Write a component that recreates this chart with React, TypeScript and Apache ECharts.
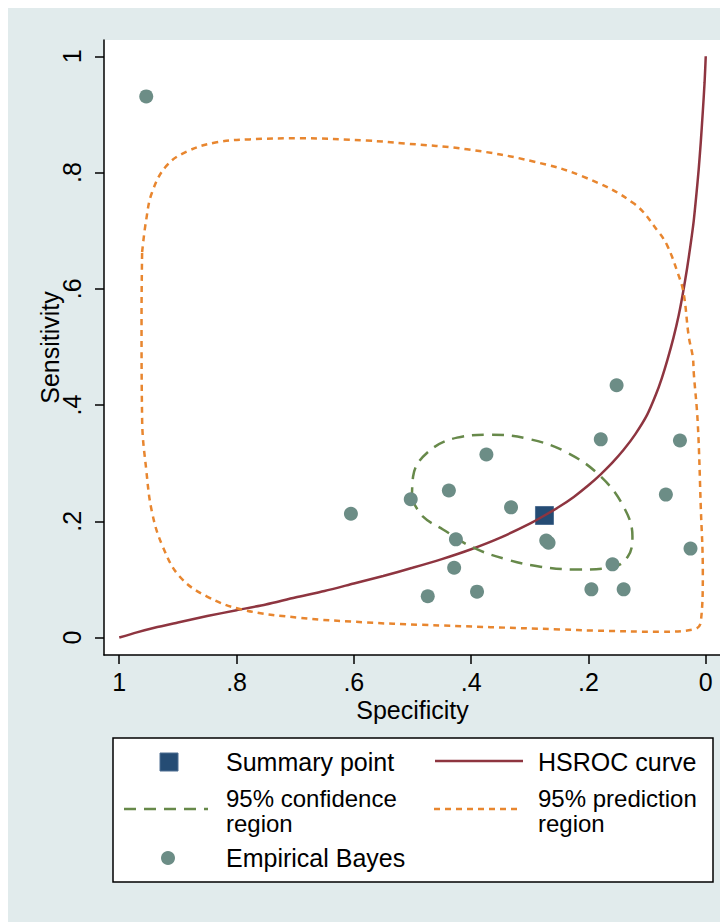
import React, { useEffect, useRef } from "react";
import * as echarts from "echarts";

// Empirical Bayes study estimates (specificity, sensitivity)
const ebSpecificity = [0.954, 0.605, 0.503, 0.438, 0.374, 0.426, 0.429, 0.474, 0.390, 0.332, 0.272, 0.268, 0.195, 0.159, 0.140, 0.179, 0.152, 0.068, 0.044, 0.026];
const ebSensitivity = [0.931, 0.213, 0.238, 0.253, 0.315, 0.169, 0.120, 0.071, 0.079, 0.224, 0.167, 0.163, 0.083, 0.126, 0.083, 0.341, 0.434, 0.246, 0.339, 0.153];

// Summary point
const summarySpecificity = [0.275];
const summarySensitivity = [0.210];

// HSROC curve
const hsrocSpecificity = [1.0, 0.97, 0.94, 0.90, 0.85, 0.80, 0.75, 0.70, 0.65, 0.60, 0.55, 0.50, 0.45, 0.40, 0.35, 0.30, 0.275, 0.25, 0.225, 0.20, 0.18, 0.16, 0.14, 0.12, 0.10, 0.085, 0.075, 0.065, 0.055, 0.046, 0.039, 0.032, 0.026, 0.0205, 0.016, 0.012, 0.0085, 0.005, 0.002, 0.0];
const hsrocSensitivity = [0.0, 0.009, 0.017, 0.026, 0.037, 0.047, 0.057, 0.069, 0.080, 0.093, 0.106, 0.120, 0.135, 0.152, 0.172, 0.196, 0.210, 0.225, 0.242, 0.262, 0.280, 0.300, 0.323, 0.350, 0.383, 0.418, 0.446, 0.479, 0.516, 0.555, 0.592, 0.634, 0.675, 0.717, 0.762, 0.806, 0.852, 0.905, 0.955, 1.0];

// 95% confidence region
const confSpecificity = [0.501, 0.499, 0.475, 0.424, 0.368, 0.299, 0.236, 0.179, 0.140, 0.125, 0.133, 0.162, 0.219, 0.282, 0.338, 0.397, 0.448, 0.482, 0.501];
const confSensitivity = [0.238, 0.277, 0.318, 0.344, 0.349, 0.341, 0.318, 0.277, 0.225, 0.174, 0.139, 0.120, 0.117, 0.122, 0.134, 0.155, 0.186, 0.208, 0.238];

// 95% prediction region
const predSpecificity = [0.961, 0.954, 0.944, 0.920, 0.885, 0.834, 0.778, 0.692, 0.578, 0.513, 0.407, 0.294, 0.209, 0.123, 0.080, 0.065, 0.048, 0.038, 0.029, 0.022, 0.0205, 0.0137, 0.0085, 0.005, 0.0085, 0.0205, 0.077, 0.191, 0.248, 0.487, 0.578, 0.692, 0.790, 0.851, 0.897, 0.926, 0.944, 0.954, 0.961, 0.962, 0.961];
const predSensitivity = [0.663, 0.719, 0.766, 0.811, 0.836, 0.852, 0.857, 0.859, 0.855, 0.850, 0.840, 0.819, 0.793, 0.747, 0.697, 0.673, 0.628, 0.594, 0.518, 0.482, 0.456, 0.370, 0.225, 0.112, 0.026, 0.014, 0.010, 0.012, 0.014, 0.022, 0.026, 0.034, 0.048, 0.071, 0.105, 0.157, 0.215, 0.289, 0.375, 0.553, 0.663];

// Axis ticks
const tickValues = [0, 0.2, 0.4, 0.6, 0.8, 1];
const tickLabels = ["0", ".2", ".4", ".6", ".8", "1"];

const FONT = "'Liberation Sans', Arial, Helvetica, sans-serif";
const BG = "#E1EBEC";
const C_SUMMARY = "#254C74";
const C_HSROC = "#8E3540";
const C_CONF = "#67894A";
const C_PRED = "#E8862F";
const C_EB = "#6C8D86";

const zip = (a: number[], b: number[]) => a.map((v, i) => [v, b[i]]);

const fmtTick = (v: number) => {
  let best = 0;
  for (let i = 0; i < tickValues.length; i++) {
    if (Math.abs(tickValues[i] - v) < Math.abs(tickValues[best] - v)) best = i;
  }
  return tickLabels[best];
};

export default function App() {
  const ref = useRef<HTMLDivElement>(null);
  useEffect(() => {
    if (!ref.current) return;
    const chart = echarts.init(ref.current, null, { renderer: "svg" });
    const textStyle = { fontFamily: FONT, fontSize: 25, fill: "#000" };
    const wrapStyle = { fontFamily: FONT, fontSize: 24, fill: "#000", lineHeight: 25 };
    const option: any = {
      animation: false,
      backgroundColor: BG,
      textStyle: { fontFamily: FONT },
      grid: {
        left: 96,
        right: 7,
        top: 32,
        bottom: 267,
        show: true,
        backgroundColor: "#ffffff",
        borderWidth: 0,
        containLabel: false,
        outerBoundsMode: "none",
      },
      xAxis: {
        type: "value",
        inverse: true,
        min: -0.026,
        max: 1.026,
        name: "Specificity",
        nameLocation: "middle",
        nameGap: 42,
        nameMoveOverlap: false,
        nameTextStyle: { fontFamily: FONT, fontSize: 25, color: "#000" },
        axisLine: { show: true, onZero: false, lineStyle: { color: "#000", width: 1.5 } },
        axisTick: { show: true, inside: false, length: 9, customValues: tickValues, lineStyle: { color: "#000", width: 1.5 } },
        axisLabel: { show: true, customValues: tickValues, formatter: fmtTick, margin: 14, fontFamily: FONT, fontSize: 25, color: "#000" },
        splitLine: { show: false },
      },
      yAxis: {
        type: "value",
        min: -0.03,
        max: 1.028,
        name: "Sensitivity",
        nameLocation: "middle",
        nameRotate: 90,
        nameGap: 42,
        nameMoveOverlap: false,
        nameTextStyle: { fontFamily: FONT, fontSize: 25, color: "#000" },
        axisLine: { show: true, onZero: false, lineStyle: { color: "#000", width: 1.5 } },
        axisTick: { show: true, inside: false, length: 9, customValues: tickValues, lineStyle: { color: "#000", width: 1.5 } },
        axisLabel: { show: true, customValues: tickValues, formatter: fmtTick, rotate: 90, margin: 20, fontFamily: FONT, fontSize: 25, color: "#000" },
        splitLine: { show: false },
      },
      series: [
        {
          name: "Summary point",
          type: "scatter",
          symbol: "rect",
          symbolSize: 18,
          z: 2,
          itemStyle: { color: C_SUMMARY, borderColor: "#4E6F92", borderWidth: 1, opacity: 1 },
          data: zip(summarySpecificity, summarySensitivity),
        },
        {
          name: "HSROC curve",
          type: "line",
          showSymbol: false,
          symbol: "none",
          smooth: 0.25,
          z: 3,
          lineStyle: { color: C_HSROC, width: 2.5 },
          data: zip(hsrocSpecificity, hsrocSensitivity),
        },
        {
          name: "95% confidence region",
          type: "line",
          showSymbol: false,
          symbol: "none",
          smooth: 0.4,
          z: 3,
          lineStyle: { color: C_CONF, width: 2.5, type: [12, 8] },
          data: zip(confSpecificity, confSensitivity),
        },
        {
          name: "95% prediction region",
          type: "line",
          showSymbol: false,
          symbol: "none",
          smooth: 0.4,
          z: 3,
          lineStyle: { color: C_PRED, width: 2.5, type: [6, 5] },
          data: zip(predSpecificity, predSensitivity),
        },
        {
          name: "Empirical Bayes",
          type: "scatter",
          symbol: "circle",
          symbolSize: 14,
          z: 4,
          itemStyle: { color: C_EB, opacity: 1 },
          data: zip(ebSpecificity, ebSensitivity),
        },
      ],
      graphic: [
        {
          type: "rect",
          shape: { x: 105, y: 730, width: 600, height: 144 },
          style: { fill: "#ffffff", stroke: "#000", lineWidth: 1.5 },
        },
        {
          type: "rect",
          shape: { x: 152, y: 745, width: 18, height: 18 },
          style: { fill: C_SUMMARY, stroke: "#4E6F92", lineWidth: 1 },
        },
        { type: "text", x: 218, y: 754, style: { ...textStyle, text: "Summary point", verticalAlign: "middle" } },
        {
          type: "line",
          shape: { x1: 427, y1: 753, x2: 515, y2: 753 },
          style: { stroke: C_HSROC, lineWidth: 2.5 },
        },
        { type: "text", x: 530, y: 754, style: { ...textStyle, text: "HSROC curve", verticalAlign: "middle" } },
        {
          type: "line",
          shape: { x1: 116, y1: 801, x2: 200, y2: 801 },
          style: { stroke: C_CONF, lineWidth: 2.5, lineDash: [12, 8] },
        },
        { type: "text", x: 218, y: 803, style: { ...wrapStyle, text: "95% confidence\nregion", verticalAlign: "middle" } },
        {
          type: "line",
          shape: { x1: 426, y1: 801, x2: 513, y2: 801 },
          style: { stroke: C_PRED, lineWidth: 2.5, lineDash: [6, 5] },
        },
        { type: "text", x: 530, y: 803, style: { ...wrapStyle, text: "95% prediction\nregion", verticalAlign: "middle" } },
        {
          type: "circle",
          shape: { cx: 160, cy: 850, r: 7 },
          style: { fill: C_EB },
        },
        { type: "text", x: 218, y: 850, style: { ...textStyle, text: "Empirical Bayes", verticalAlign: "middle" } },
      ],
    };
    chart.setOption(option);
    return () => chart.dispose();
  }, []);
  return <div ref={ref} style={{ width: 720, height: 914, background: BG }} />;
}
